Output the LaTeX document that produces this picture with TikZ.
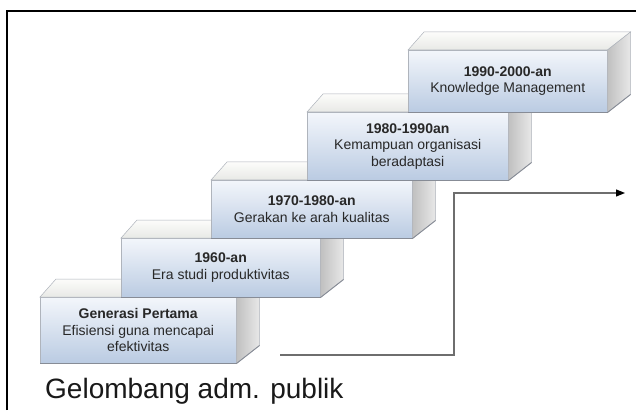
\documentclass[tikz,border=0pt]{standalone}
\usepackage{fontspec}
\setmainfont{Liberation Sans}
\usetikzlibrary{calc,arrows.meta}
\definecolor{frontTop}{RGB}{243,246,251}
\definecolor{frontBot}{RGB}{186,203,226}
\definecolor{topBack}{RGB}{252,252,250}
\definecolor{topFront}{RGB}{232,233,230}
\definecolor{sideL}{RGB}{192,192,192}
\definecolor{sideR}{RGB}{232,232,232}
\definecolor{edgeGray}{RGB}{175,180,188}
\definecolor{shadowGray}{RGB}{135,140,150}
\definecolor{txtDark}{RGB}{40,40,40}
\definecolor{connGray}{RGB}{110,110,110}
\newcommand\stepfaces[1]{%
  \path[topface] (#1.north west) -- ++(16,18) -- ($(#1.north east)+(23,18)$) -- (#1.north east) -- cycle;
  \path[sideface] (#1.north east) -- ($(#1.north east)+(23,18)$) -- ($(#1.south east)+(23,18)$) -- (#1.south east) -- cycle;
  \draw[shadowline] (#1.south west) -- (#1.south east) -- ($(#1.south east)+(23,18)$);
}
\begin{document}
\begin{tikzpicture}[x=1pt,y=1pt,
  front/.style={draw=edgeGray, line width=0.5pt, top color=frontTop, bottom color=frontBot,
    anchor=north west, inner sep=0pt, align=center, text=txtDark,
    font=\fontsize{14}{16.5}\selectfont},
  topface/.style={draw=edgeGray, line width=0.5pt, top color=topBack, bottom color=topFront},
  sideface/.style={draw=edgeGray, line width=0.5pt, left color=sideL, right color=sideR},
  shadowline/.style={draw=shadowGray, line width=0.9pt},
  conn/.style={draw=connGray, line width=1.1pt, -{Triangle[length=9pt,width=7pt,color=black,fill=black]}},
  frame/.style={draw=black, line width=1.6pt}]
\useasboundingbox (0,0) rectangle (636,410);
\fill[white] (0,0) rectangle (636,410);
\draw[frame] (7,0) -- (7,399) -- (636,399);

\node[front, minimum width=196pt, minimum height=66pt] (b1) at (40,113)
  {\textbf{Generasi Pertama}\\Efisiensi guna mencapai\\efektivitas};
\stepfaces{b1}
\node[front, minimum width=199pt, minimum height=59pt] (b2) at (121,172)
  {\textbf{1960-an}\\Era studi produktivitas};
\stepfaces{b2}
\node[front, minimum width=201pt, minimum height=58pt] (b3) at (211,230)
  {\textbf{1970-1980-an}\\Gerakan ke arah kualitas};
\stepfaces{b3}
\node[front, minimum width=201pt, minimum height=68pt] (b4) at (307,298)
  {\textbf{1980-1990an}\\Kemampuan organisasi\\beradaptasi};
\stepfaces{b4}
\node[front, minimum width=199pt, minimum height=62pt] (b5) at (408,360)
  {\textbf{1990-2000-an}\\Knowledge Management};
\stepfaces{b5}

\coordinate (cs) at (280,55);
\coordinate (ck) at (454,217);
\coordinate (ce) at (625,217);
\draw[conn] (cs) -| (ck) -- (ce);

\node[anchor=base west, inner sep=0pt, text={rgb,255:red,25;green,25;blue,25},
  font=\fontsize{28}{33}\selectfont] (title) at (45,12) {Gelombang adm. publik};
\end{tikzpicture}
\end{document}
